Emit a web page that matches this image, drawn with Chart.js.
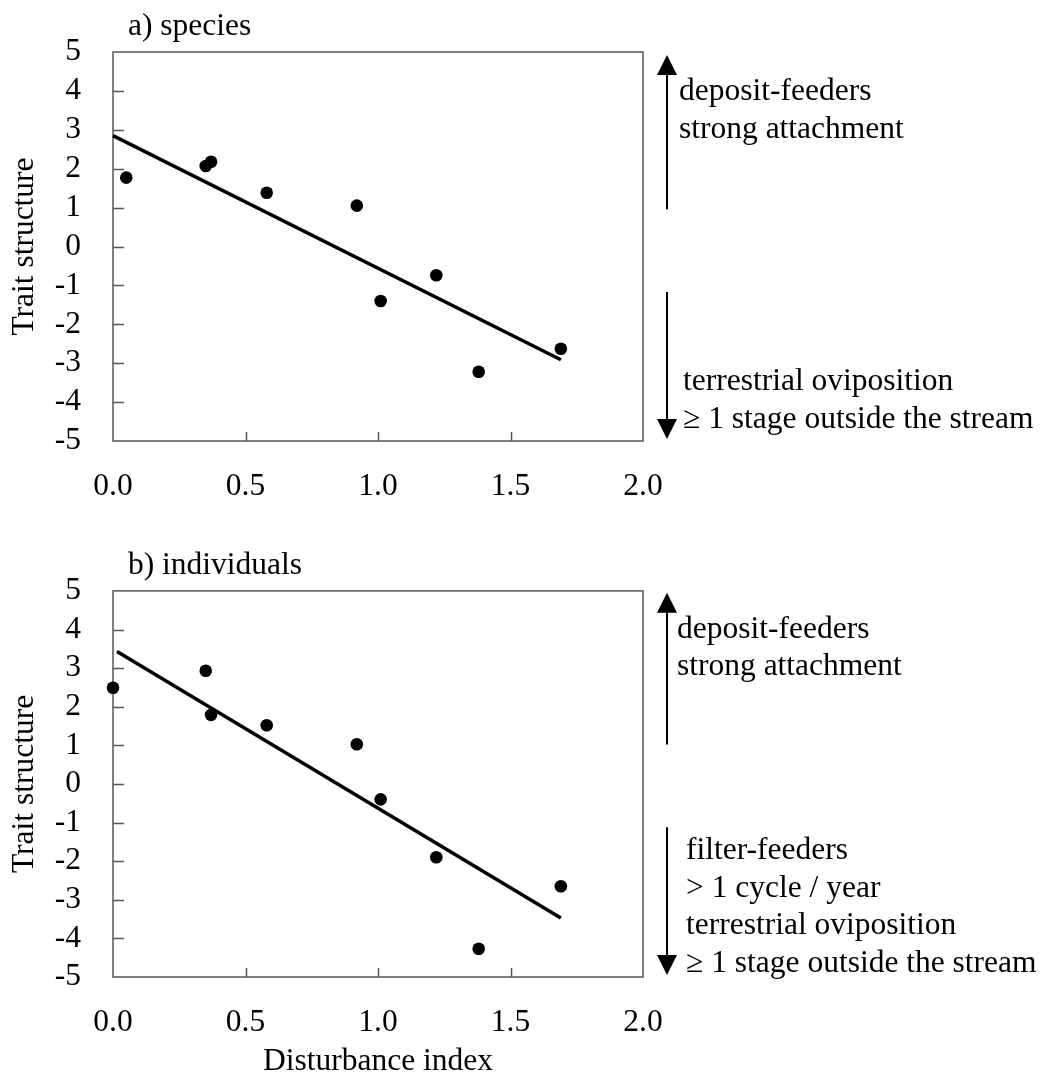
<!DOCTYPE html>
<html>
<head>
<meta charset="utf-8">
<script src="https://cdn.jsdelivr.net/npm/chart.js@4/dist/chart.umd.min.js"></script>
<style>
  body { margin: 0; background: #fff; }
  #wrap { position: relative; width: 1045px; height: 1082px; }
  canvas { position: absolute; left: 0; }
</style>
</head>
<body>
<div id="wrap">
  <canvas id="chartSpecies" width="1045" height="540" style="top:0"></canvas>
  <canvas id="chartIndividuals" width="1045" height="542" style="top:540px"></canvas>
</div>
<script>
// a) species
var speciesX = [0.05, 0.35, 0.37, 0.58, 0.92, 1.01, 1.22, 1.38, 1.69];
var speciesY = [1.77, 2.07, 2.18, 1.38, 1.05, -1.40, -0.74, -3.22, -2.63];
var speciesFitX = [0, 1.69];
var speciesFitY = [2.85, -2.91];

// b) individuals
var indivX = [0.0, 0.35, 0.37, 0.58, 0.92, 1.01, 1.22, 1.38, 1.69];
var indivY = [2.49, 2.93, 1.79, 1.52, 1.03, -0.40, -1.90, -4.27, -2.65];
var indivFitX = [0.015, 1.69];
var indivFitY = [3.43, -3.47];

// axes
var xTickValues = [0, 0.5, 1.0, 1.5, 2.0];
var yTickValues = [-5, -4, -3, -2, -1, 0, 1, 2, 3, 4, 5];

var FONT = "'Liberation Serif', 'Times New Roman', serif";
var FONT_SIZE = 31.5;

// trait labels beside the arrows
var speciesNotes = {
  upArrow: [0.96, 4.92], downArrow: [-1.17, -4.95],
  blocks: [
    { y: 3.77, dx: 36, lines: ['deposit-feeders', 'strong attachment'] },
    { y: -3.69, dx: 40, lines: ['terrestrial oviposition', '\u2265 1 stage outside the stream'] }
  ]
};
var indivNotes = {
  upArrow: [1.02, 4.95], downArrow: [-1.12, -4.95],
  blocks: [
    { y: 3.79, dx: 34, lines: ['deposit-feeders', 'strong attachment'] },
    { y: -1.94, dx: 43, lines: ['filter-feeders', '> 1 cycle / year', 'terrestrial oviposition', '\u2265 1 stage outside the stream'] }
  ]
};

function toPoints(xs, ys) {
  return xs.map(function (x, i) { return { x: x, y: ys[i] }; });
}

function drawArrow(ctx, x, yFrom, yTip) {
  var dir = yTip < yFrom ? -1 : 1;
  var head = 20;
  ctx.beginPath();
  ctx.moveTo(x, yFrom);
  ctx.lineTo(x, yTip - dir * head);
  ctx.stroke();
  ctx.beginPath();
  ctx.moveTo(x, yTip);
  ctx.lineTo(x - 10, yTip - dir * head);
  ctx.lineTo(x + 10, yTip - dir * head);
  ctx.closePath();
  ctx.fill();
}

var framePlugin = {
  id: 'frame',
  beforeDatasetsDraw: function (chart) {
    var ctx = chart.ctx, a = chart.chartArea;
    var xs = chart.scales.x, ys = chart.scales.y;
    ctx.save();
    ctx.strokeStyle = '#555';
    ctx.lineWidth = 1.5;
    ctx.strokeRect(a.left, a.top, a.right - a.left, a.bottom - a.top);
    // inward tick marks
    ctx.beginPath();
    yTickValues.slice(1, -1).forEach(function (v) {
      var py = Math.round(ys.getPixelForValue(v)) + 0.5;
      ctx.moveTo(a.left, py);
      ctx.lineTo(a.left + 11, py);
    });
    xTickValues.slice(1, -1).forEach(function (v) {
      var px = Math.round(xs.getPixelForValue(v)) + 0.5;
      ctx.moveTo(px, a.bottom);
      ctx.lineTo(px, a.bottom - 9);
    });
    ctx.stroke();
    ctx.restore();
  },
  afterDraw: function (chart, args, opts) {
    var ctx = chart.ctx, a = chart.chartArea, ys = chart.scales.y;
    var notes = opts.notes;
    ctx.save();
    ctx.fillStyle = '#000';
    ctx.strokeStyle = '#000';
    ctx.font = FONT_SIZE + 'px ' + FONT;
    ctx.textBaseline = 'alphabetic';
    ctx.textAlign = 'left';
    ctx.fillText(opts.title, 128, a.top - 17);

    var ax = a.right + 24;
    ctx.lineWidth = 2;
    drawArrow(ctx, ax, ys.getPixelForValue(notes.upArrow[0]), ys.getPixelForValue(notes.upArrow[1]));
    drawArrow(ctx, ax, ys.getPixelForValue(notes.downArrow[0]), ys.getPixelForValue(notes.downArrow[1]));

    notes.blocks.forEach(function (b) {
      var y0 = ys.getPixelForValue(b.y);
      b.lines.forEach(function (t, i) {
        ctx.fillText(t, a.right + b.dx, y0 + i * 37.8);
      });
    });
    ctx.restore();
  }
};

function makePanel(id, title, xs, ys, fitX, fitY, notes, padTop, xAxisHeight, showXTitle) {
  return new Chart(document.getElementById(id), {
    type: 'scatter',
    data: {
      datasets: [{
        data: toPoints(fitX, fitY),
        showLine: true,
        borderColor: '#000',
        borderWidth: 3.5,
        pointRadius: 0,
        clip: false
      }, {
        data: toPoints(xs, ys),
        showLine: false,
        pointRadius: 6.3,
        pointBackgroundColor: '#000',
        pointBorderColor: '#000',
        pointBorderWidth: 0,
        clip: false
      }]
    },
    options: {
      responsive: false,
      animation: false,
      layout: { padding: { top: padTop, right: 402, left: 0, bottom: 0 } },
      plugins: {
        legend: { display: false },
        tooltip: { enabled: false },
        frame: { title: title, notes: notes }
      },
      scales: {
        x: {
          type: 'linear',
          min: 0, max: 2,
          afterBuildTicks: function (s) { s.ticks = xTickValues.map(function (v) { return { value: v }; }); },
          afterFit: function (s) { s.height = xAxisHeight; },
          grid: { display: false, drawTicks: false },
          border: { display: false },
          ticks: {
            autoSkip: false,
            maxRotation: 0,
            padding: 27,
            color: '#000',
            font: { family: FONT, size: FONT_SIZE },
            callback: function (v) { return Number(v).toFixed(1); }
          },
          title: {
            display: showXTitle,
            text: 'Disturbance index',
            color: '#000',
            font: { family: FONT, size: FONT_SIZE },
            padding: { top: 0, bottom: 1 }
          }
        },
        y: {
          type: 'linear',
          min: -5, max: 5,
          afterBuildTicks: function (s) { s.ticks = yTickValues.map(function (v) { return { value: v }; }); },
          afterFit: function (s) { s.width = 113; },
          grid: { display: false, drawTicks: false },
          border: { display: false },
          ticks: {
            autoSkip: false,
            padding: 32,
            color: '#000',
            font: { family: FONT, size: FONT_SIZE },
            callback: function (v) { return String(v); }
          },
          title: {
            display: true,
            text: 'Trait structure',
            color: '#000',
            font: { family: FONT, size: FONT_SIZE },
            padding: { top: 6, bottom: 0 }
          }
        }
      }
    },
    plugins: [framePlugin]
  });
}

makePanel('chartSpecies', 'a) species', speciesX, speciesY, speciesFitX, speciesFitY, speciesNotes, 52, 99, false);
makePanel('chartIndividuals', 'b) individuals', indivX, indivY, indivFitX, indivFitY, indivNotes, 48, 105, true);
</script>
</body>
</html>
